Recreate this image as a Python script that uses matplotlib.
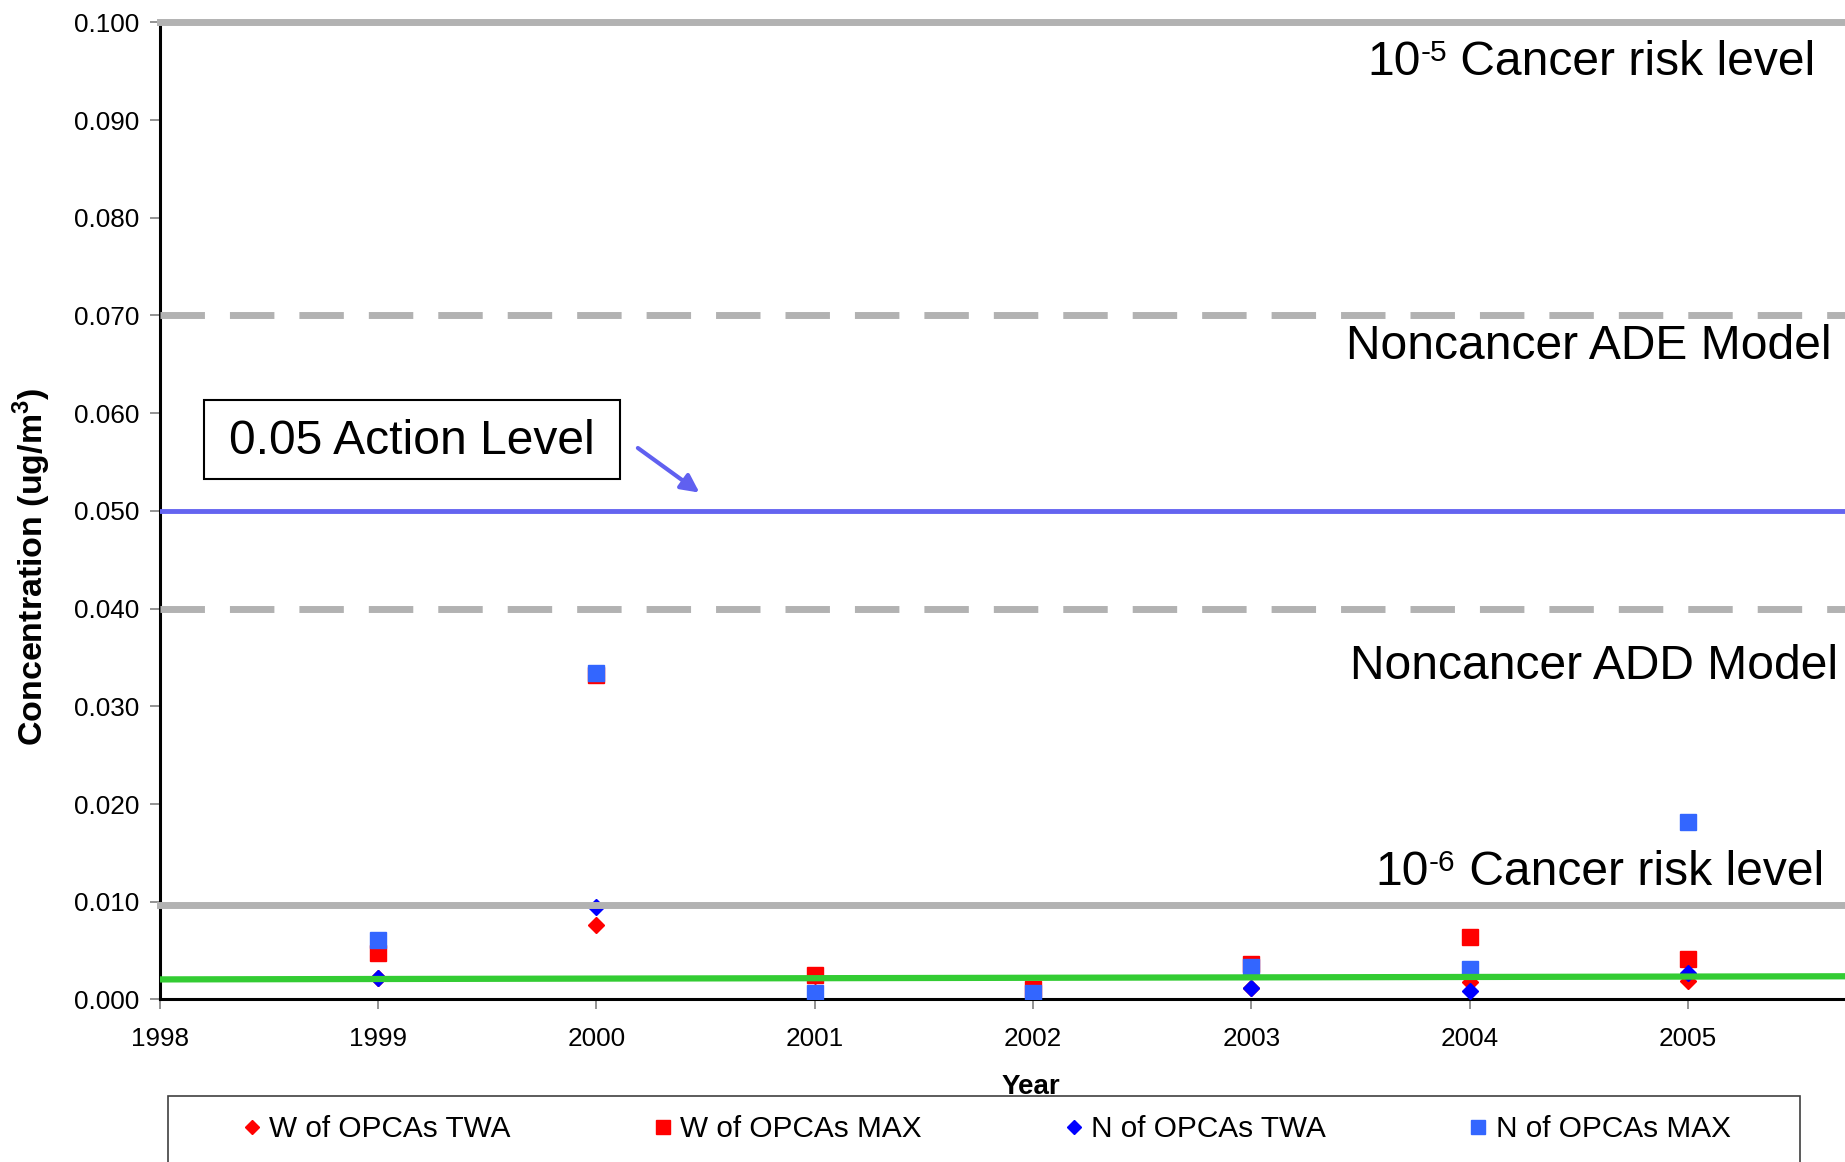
import numpy as np
import matplotlib
matplotlib.use("Agg")
import matplotlib.pyplot as plt
from matplotlib.patches import Rectangle

plt.rcParams['font.family'] = ['Liberation Sans', 'DejaVu Sans']
plt.rcParams['mathtext.fontset'] = 'custom'
plt.rcParams['mathtext.rm'] = 'Liberation Sans'
plt.rcParams['mathtext.bf'] = 'Liberation Sans:bold'

# data
years = [1999, 2000, 2001, 2002, 2003, 2004, 2005]
w_twa = [0.0022, 0.0076, 0.0008, 0.0008, 0.0012, 0.0018, 0.0019]
w_max = [0.0048, 0.0332, 0.0025, 0.0011, 0.0036, 0.0064, 0.0041]
n_twa = [0.0022, 0.0095, 0.0005, 0.0005, 0.0012, 0.0009, 0.0027]
n_max = [0.0061, 0.0334, 0.0007, 0.0007, 0.0033, 0.0031, 0.0182]
series_names = ['W of OPCAs TWA', 'W of OPCAs MAX', 'N of OPCAs TWA', 'N of OPCAs MAX']

trend_x = [1998, 2005.72]
trend_y = [0.00205, 0.00237]

cancer_levels = [0.1, 0.0097]
noncancer_levels = [0.07, 0.04]
action_level = 0.05

FS = 34.6


def risk_label(ax, x, y, exponent, rest, tr):
    # "10" + raised exponent + rest, right aligned at x
    t1 = ax.text(x, y, ' ' + rest, transform=tr, ha='right', va='center',
                 fontsize=FS, zorder=6)
    t2 = ax.annotate(exponent, xy=(0, 0), xycoords=t1, xytext=(0, 17),
                     textcoords='offset points', ha='right', va='baseline',
                     fontsize=21.5, zorder=6)
    ax.annotate('10', xy=(0, 0), xycoords=(t2, t1), ha='right', va='bottom',
                fontsize=FS, zorder=6)


fig = plt.figure(figsize=(18.45, 11.62), dpi=100)
ax = fig.add_axes([0.0867, 0.1399, 1 - 0.0867, 0.9808 - 0.1399])

ax.plot(years, w_twa, 'D', color='#FF0000', ms=8.5, label=series_names[0], zorder=3)
ax.plot(years, w_max, 's', color='#FF0000', ms=12, label=series_names[1], zorder=3)
ax.plot(years, n_twa, 'D', color='#0000FF', ms=8.5, label=series_names[2], zorder=3)
ax.plot(years, n_max, 's', color='#3366FF', ms=12, label=series_names[3], zorder=3)

# reference lines (drawn over the markers)
for lv in cancer_levels:
    ax.axhline(lv, color='#B2B2B2', lw=5, zorder=4, clip_on=False)
for lv in noncancer_levels:
    ax.axhline(lv, color='#B2B2B2', lw=5, dashes=(6.4, 3.6), zorder=4)
ax.axhline(action_level, color='#6464F0', lw=3.5, zorder=4)
ax.plot(trend_x, trend_y, color='#33CC33', lw=4.5, zorder=5)

tr = ax.get_yaxis_transform()
risk_label(ax, 0.9825, 0.0959, '-5', 'Cancer risk level', tr)
ax.text(0.9923, 0.0668, 'Noncancer ADE Model', transform=tr, ha='right', va='center',
        fontsize=FS, zorder=6)
ax.text(0.9958, 0.0341, 'Noncancer ADD Model', transform=tr, ha='right', va='center',
        fontsize=FS, zorder=6)
risk_label(ax, 0.9874, 0.0130, '-6', 'Cancer risk level', tr)

ax.add_patch(Rectangle((0.0259, 0.05325), 0.2473, 0.00805, transform=tr,
                       facecolor='white', edgecolor='black', lw=1.5, zorder=6))
ax.text(0.1495, 0.0571, '0.05 Action Level', transform=tr, ha='center', va='center',
        fontsize=FS, zorder=7)
ax.annotate('', xy=(0.3215, 0.0517), xytext=(0.2823, 0.0566),
            xycoords=tr, textcoords=tr,
            arrowprops=dict(arrowstyle='-|>', color='#6060F0', lw=3, mutation_scale=27),
            zorder=7)

yticks = np.arange(0, 0.1001, 0.01)
ax.set_xlim(1998, 2005.72)
ax.set_ylim(0, 0.1)
ax.set_xticks(np.arange(1998, 2006))
ax.set_yticks(yticks)
ax.set_yticklabels(['%.3f' % v for v in yticks])
ax.tick_params(axis='both', labelsize=18.8, length=7, width=1.2, color='#808080',
               direction='out')
ax.tick_params(axis='x', pad=13)
ax.tick_params(axis='y', pad=8)
for s in ['top', 'right']:
    ax.spines[s].set_visible(False)
for s in ['left', 'bottom']:
    ax.spines[s].set_linewidth(2.2)
    ax.spines[s].set_color('black')

fig.text(0.0175, 0.512, 'Concentration (ug/m$^{\\mathbf{3}}$)', rotation=90,
         ha='center', va='center', fontsize=24.5, fontweight='bold')
fig.text(0.5587, 0.0535, 'Year', ha='center', va='bottom', fontsize=20, fontweight='bold')

# legend box running off the bottom of the figure
fig.patches.append(Rectangle((0.0912, -0.05), 0.8846, 0.1067, transform=fig.transFigure,
                             facecolor='white', edgecolor='#404040', lw=1.2, zorder=5))
handles, labels = ax.get_legend_handles_labels()
leg = fig.legend(handles, labels, ncol=4, loc='center', bbox_to_anchor=(0.534, 0.0283),
                 frameon=False, fontsize=21.4, handlelength=0.8, handletextpad=0.2,
                 columnspacing=4.7, markerscale=0.8)
leg.set_zorder(6)

fig.savefig('out.png', dpi=100)
